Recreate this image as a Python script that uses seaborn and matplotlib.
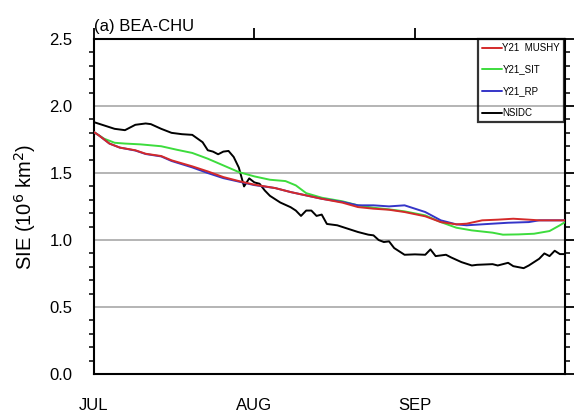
import pandas as pd
import matplotlib
matplotlib.use("Agg")
import matplotlib.pyplot as plt
import seaborn as sns

# days since 1 July
month_ticks = [0, 31, 62]
month_labels = ["JUL", "AUG", "SEP"]

nsidc_day = [0, 2, 4, 6, 8, 10, 11, 13, 15, 17, 19, 21, 22, 23, 24, 25, 26, 27, 28, 29,
             30, 31, 32, 33, 34, 36, 38, 39, 40, 41, 42, 43, 44, 45, 47, 49, 51, 53, 54, 55,
             56, 57, 58, 60, 62, 64, 65, 66, 68, 69, 71, 73, 74, 77, 78, 80, 81, 83, 84, 86,
             87, 88, 89, 90, 91]
nsidc_sie = [1.88, 1.855, 1.83, 1.82, 1.86, 1.87, 1.865, 1.83, 1.80, 1.79, 1.785, 1.73, 1.67, 1.66,
             1.64, 1.66, 1.665, 1.62, 1.54, 1.40, 1.46, 1.43, 1.42, 1.37, 1.33, 1.28, 1.245, 1.22,
             1.18, 1.22, 1.22, 1.18, 1.19, 1.12, 1.11, 1.085, 1.06, 1.04, 1.035, 1.0, 0.985, 0.99,
             0.94, 0.89, 0.893, 0.89, 0.93, 0.88, 0.89, 0.87, 0.835, 0.81, 0.815, 0.82, 0.81, 0.83,
             0.805, 0.79, 0.81, 0.86, 0.90, 0.88, 0.92, 0.895, 0.895]

sit_day = [0, 2, 4, 6, 9, 13, 16, 19, 22, 25, 28, 31, 34, 37, 39, 41, 44, 48, 51, 54, 57, 60,
           64, 67, 70, 73, 77, 79, 82, 85, 88, 90, 91]
sit_sie = [1.806, 1.756, 1.726, 1.72, 1.714, 1.70, 1.674, 1.65, 1.607, 1.557, 1.507, 1.475, 1.45,
           1.44, 1.408, 1.35, 1.316, 1.289, 1.259, 1.241, 1.229, 1.214, 1.184, 1.134, 1.092, 1.072,
           1.055, 1.04, 1.042, 1.047, 1.067, 1.11, 1.134]

mushy_day = [0, 1, 3, 5, 8, 10, 13, 15, 19, 22, 25, 28, 31, 35, 38, 41, 44, 48, 51, 54, 57, 60,
             64, 67, 70, 72, 75, 78, 81, 84, 86, 91]
mushy_sie = [1.806, 1.78, 1.72, 1.69, 1.67, 1.644, 1.627, 1.595, 1.55, 1.512, 1.47, 1.44, 1.413,
             1.388, 1.358, 1.333, 1.308, 1.279, 1.246, 1.234, 1.226, 1.209, 1.177, 1.134, 1.117,
             1.122, 1.147, 1.152, 1.159, 1.152, 1.147, 1.147]

rp_day = [0, 1, 3, 5, 8, 10, 13, 15, 19, 22, 25, 28, 31, 35, 38, 41, 44, 48, 51, 54, 57, 60,
          64, 67, 70, 72, 77, 80, 84, 86, 91]
rp_sie = [1.806, 1.78, 1.72, 1.69, 1.668, 1.642, 1.624, 1.59, 1.542, 1.50, 1.462, 1.436, 1.41,
          1.388, 1.358, 1.333, 1.308, 1.284, 1.259, 1.259, 1.251, 1.259, 1.209, 1.147, 1.117,
          1.11, 1.122, 1.129, 1.134, 1.147, 1.147]

sns.set_style("white")
plt.rcParams["font.family"] = ["Liberation Sans", "DejaVu Sans"]
plt.rcParams["text.color"] = "black"
plt.rcParams["axes.labelcolor"] = "black"
plt.rcParams["xtick.color"] = "black"
plt.rcParams["ytick.color"] = "black"

fig = plt.figure(figsize=(5.76, 4.2), dpi=100)
ax = fig.add_axes([0.163, 0.1095, 0.818, 0.7975])

for y in [0.5, 1.0, 1.5, 2.0]:
    ax.axhline(y, color="#a0a0a0", lw=1.1, zorder=1)

series = [
    ("NSIDC", nsidc_day, nsidc_sie, "black"),
    ("Y21_SIT", sit_day, sit_sie, "#3ddc3d"),
    ("Y21_RP", rp_day, rp_sie, "#3535c8"),
    ("Y21  MUSHY", mushy_day, mushy_sie, "#d42a2a"),
]
handles = {}
for name, d, v, c in series:
    df = pd.DataFrame({"day": d, "sie": v})
    sns.lineplot(data=df, x="day", y="sie", color=c, lw=1.4, ax=ax, zorder=3, sort=False)
    handles[name] = ax.lines[-1]

ax.set_xlim(0, 91)
ax.set_ylim(0, 2.5)
ax.set_xticks(month_ticks)
ax.set_xticklabels(month_labels)
ax.set_yticks([0, 0.5, 1.0, 1.5, 2.0, 2.5])
ax.set_yticklabels(["0.0", "0.5", "1.0", "1.5", "2.0", "2.5"])
ax.set_yticks([i / 10 for i in range(26)], minor=True)
ax.tick_params(axis="both", which="major", direction="out", labelsize=12, width=1.3,
               top=True, right=True, color="black", labelcolor="black")
ax.tick_params(axis="x", which="major", length=8, pad=9)
ax.tick_params(axis="y", which="major", length=6.5, pad=9)
ax.tick_params(axis="y", which="minor", direction="out", length=3.5, width=1.1,
               left=True, right=True)
for s in ax.spines.values():
    s.set_linewidth(1.5)
    s.set_color("black")

ax.set_xlabel("")
ax.set_ylabel("SIE (10$^6$ km$^2$)", fontsize=14.5, labelpad=8, color="black")
ax.set_title("(a) BEA-CHU", loc="left", fontsize=12, pad=6, color="black")

order = ["Y21  MUSHY", "Y21_SIT", "Y21_RP", "NSIDC"]
leg = ax.legend([handles[k] for k in order], order, loc="upper right",
                bbox_to_anchor=(0.998, 1.0), borderaxespad=0, fontsize=7,
                handlelength=2.0, handletextpad=0.1, borderpad=0.4,
                labelspacing=1.2, fancybox=False, frameon=True)
leg.get_frame().set_edgecolor("black")
leg.get_frame().set_linewidth(1.6)
leg.get_frame().set_facecolor("none")
for t in leg.get_texts():
    t.set_color("black")

fig.savefig("out.png", dpi=100)
